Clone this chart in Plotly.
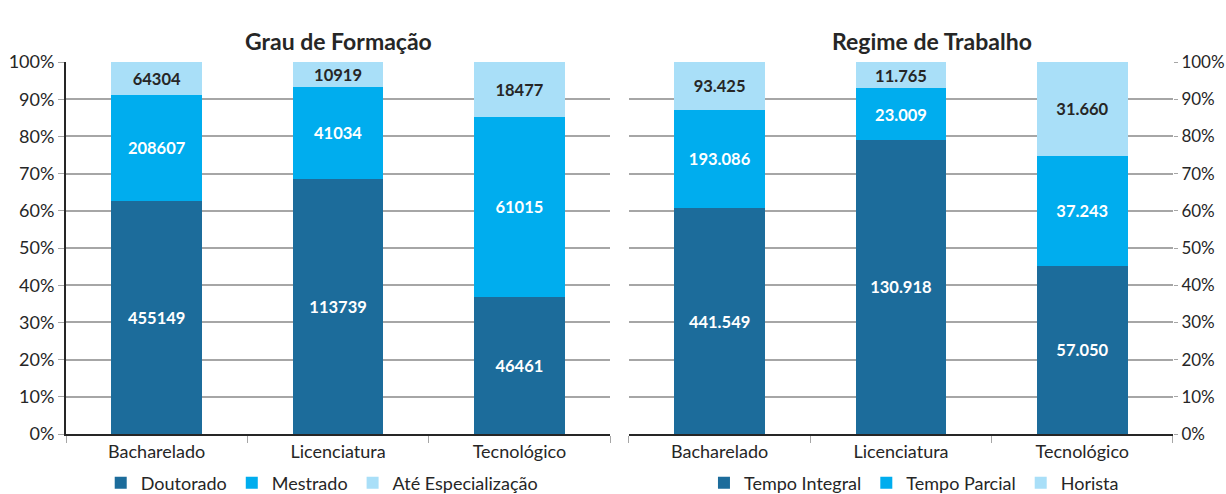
import plotly.graph_objects as go
from plotly.subplots import make_subplots

categories = ['Bacharelado', 'Licenciatura', 'Tecnológico']

# Grau de Formação
doutorado = [455149, 113739, 46461]
mestrado = [208607, 41034, 61015]
ate_especializacao = [64304, 10919, 18477]

# Regime de Trabalho
tempo_integral = [441549, 130918, 57050]
tempo_parcial = [193086, 23009, 37243]
horista = [93425, 11765, 31660]

DARK = '#1C6C9B'
MID = '#00ADEE'
LIGHT = '#A9DFF8'
FONT = 'Lato'


def dots(values):
    return [f'{v:,}'.replace(',', '.') for v in values]


fig = make_subplots(rows=1, cols=2, horizontal_spacing=0.017)

left = [('Doutorado', doutorado, DARK, 'white'),
        ('Mestrado', mestrado, MID, 'white'),
        ('Até Especialização', ate_especializacao, LIGHT, '#262626')]
right = [('Tempo Integral', tempo_integral, DARK, 'white'),
         ('Tempo Parcial', tempo_parcial, MID, 'white'),
         ('Horista', horista, LIGHT, '#262626')]

for name, vals, color, tcol in left:
    fig.add_trace(go.Bar(
        x=categories, y=vals, name=name, marker_color=color,
        marker_line_width=0,
        text=[str(v) for v in vals], textposition='inside',
        insidetextanchor='middle', textangle=0,
        textfont=dict(color=tcol, size=17, family=FONT, weight='bold'),
        legend='legend'), row=1, col=1)

for name, vals, color, tcol in right:
    fig.add_trace(go.Bar(
        x=categories, y=vals, name=name, marker_color=color,
        marker_line_width=0,
        text=dots(vals), textposition='inside',
        insidetextanchor='middle', textangle=0,
        textfont=dict(color=tcol, size=17, family=FONT, weight='bold'),
        legend='legend2'), row=1, col=2)

fig.update_layout(
    barmode='stack', barnorm='percent', bargap=0.5,
    width=1226, height=494,
    margin=dict(l=66, r=53, t=62, b=60, autoexpand=False),
    paper_bgcolor='white', plot_bgcolor='white',
    font=dict(family=FONT, size=18, color='#262626'),
    uniformtext=dict(minsize=14, mode='show'),
    legend=dict(orientation='h', traceorder='normal', x=0.231, xanchor='center',
                y=-0.082, yanchor='top', font=dict(size=18), itemwidth=30),
    legend2=dict(orientation='h', traceorder='normal', x=0.766, xanchor='center',
                 y=-0.082, yanchor='top', font=dict(size=18), itemwidth=30),
    annotations=[
        dict(text='<b>Grau de Formação</b>', x=0.246, y=1.0, xref='paper', yref='paper',
             xanchor='center', yshift=37, showarrow=False,
             font=dict(size=23, family=FONT, color='#262626')),
        dict(text='<b>Regime de Trabalho</b>', x=0.782, y=1.0, xref='paper', yref='paper',
             xanchor='center', yshift=37, showarrow=False,
             font=dict(size=23, family=FONT, color='#262626')),
    ],
)

axis_y = dict(range=[0, 100], dtick=10, ticksuffix='%', showgrid=True,
              gridcolor='#A6A6A6', gridwidth=1.5, ticks='outside', ticklen=6,
              tickcolor='#A6A6A6', tickfont=dict(size=18, color='#262626'),
              zeroline=False, fixedrange=True)
axis_x = dict(showline=True, linecolor='#262626', linewidth=2, ticks='outside',
              tickson='boundaries', ticklen=7, tickcolor='#A6A6A6',
              tickfont=dict(size=18, color='#262626'), fixedrange=True)

fig.update_yaxes(**axis_y, showline=True, linecolor='#262626', linewidth=2, row=1, col=1)
fig.update_yaxes(**axis_y, side='right', showline=False, row=1, col=2)
fig.update_yaxes(ticklen=4, tickfont=dict(size=17), row=1, col=2)
fig.update_xaxes(**axis_x)

# left-hand line and ticks of the right panel
fig.update_layout(yaxis3=dict(overlaying='y2', anchor='x2', side='left', range=[0, 100],
                              dtick=10, showticklabels=False, showgrid=False,
                              showline=True, linecolor='#262626', linewidth=2,
                              ticks='outside', ticklen=5, tickcolor='#A6A6A6',
                              zeroline=False, fixedrange=True))

fig.write_html('out.html', config={'displayModeBar': False},
               post_script="document.body.style.margin='0';document.body.style.overflow='hidden';")
